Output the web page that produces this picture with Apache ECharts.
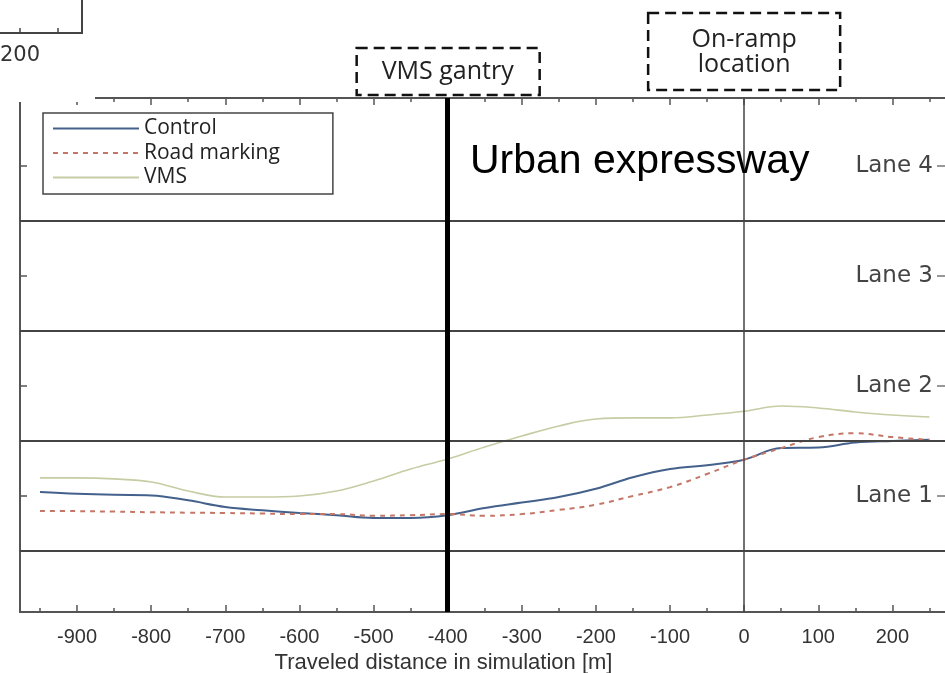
<!DOCTYPE html>
<html>
<head>
<meta charset="utf-8">
<script src="https://cdn.jsdelivr.net/npm/echarts@6/dist/echarts.min.js"></script>
<style>
  html, body { margin: 0; padding: 0; background: #fff; }
  #chart { width: 945px; height: 673px; }
</style>
</head>
<body>
<div id="chart"></div>
<script>
// Travelled distance relative to the on-ramp [m]
const distance = [-950, -900, -850, -800, -750, -700, -650, -600, -550, -500, -450, -400,
  -350, -300, -250, -200, -150, -100, -50, 0, 50, 100, 150, 200, 250];

// Mean lateral position, in lanes (0 = outer edge of lane 1)
const control = [0.536, 0.52, 0.51, 0.505, 0.46, 0.40, 0.37, 0.345, 0.325, 0.30, 0.30, 0.325,
  0.39, 0.44, 0.49, 0.565, 0.67, 0.745, 0.78, 0.83, 0.935, 0.94, 0.985, 1.0, 1.01];
const roadMarking = [0.364, 0.362, 0.358, 0.352, 0.348, 0.345, 0.34, 0.335, 0.335, 0.32, 0.325, 0.335,
  0.32, 0.335, 0.373, 0.42, 0.50, 0.58, 0.70, 0.83, 0.935, 1.035, 1.07, 1.035, 1.01];
const vms = [0.664, 0.664, 0.655, 0.627, 0.545, 0.49, 0.49, 0.50, 0.545, 0.636, 0.745, 0.836,
  0.945, 1.045, 1.136, 1.20, 1.21, 1.21, 1.236, 1.27, 1.318, 1.30, 1.264, 1.236, 1.218];

// Axis ticks
const xMajorTicks = [-900, -800, -700, -600, -500, -400, -300, -200, -100, 0, 100, 200];
const xMinorTicks = [-950, -850, -750, -650, -550, -450, -350, -250, -150, -50, 50, 150, 250];
const laneCentres = [0.5, 1.5, 2.5, 3.5];
const laneNames = ['Lane 1', 'Lane 2', 'Lane 3', 'Lane 4'];
const laneBoundaries = [0, 1, 2, 3];

// Reference positions along the road
const gantryPosition = -400;
const rampPosition = 0;

const X_MIN = -977, X_MAX = 271;
const Y_MIN = -0.555, Y_MAX = 4.118;

const pairs = (ys) => distance.map((d, i) => [d, ys[i]]);

const axisGrey = '#555';
const font = 'Liberation Sans, Arial, sans-serif';
const humanist = 'Open Sans, sans-serif';

function xAxisDef(position, ticks, len, withLabels) {
  return {
    type: 'value', position, min: X_MIN, max: X_MAX,
    axisLine: { show: true, onZero: false, lineStyle: { color: axisGrey, width: 2 } },
    axisTick: { show: true, inside: true, length: len, customValues: ticks,
      lineStyle: { color: axisGrey, width: 1.5 } },
    axisLabel: withLabels ? {
      show: true, customValues: ticks, margin: 15, color: '#333',
      fontFamily: font, fontSize: 20
    } : { show: false },
    splitLine: { show: false }
  };
}

const chart = echarts.init(document.getElementById('chart'), null, { renderer: 'canvas' });

const bottomMajor = xAxisDef('bottom', xMajorTicks, 7, true);
bottomMajor.name = 'Traveled distance in simulation [m]';
bottomMajor.nameLocation = 'middle';
bottomMajor.nameGap = 35;
bottomMajor.nameTextStyle = { fontFamily: font, fontSize: 22, color: '#333', padding: [0, 78, 0, 0] };

chart.setOption({
  animation: false,
  backgroundColor: '#fff',
  title: {
    text: 'Urban expressway', left: 470, top: 141, padding: 0,
    textStyle: { fontFamily: font, fontSize: 41, fontWeight: 'normal', color: '#000' }
  },
  grid: { left: 20, right: 0, top: 98, bottom: 61, containLabel: false, outerBoundsMode: 'none' },
  legend: {
    orient: 'vertical', left: 43, top: 113,
    padding: [5, 53, 6, 9],
    borderColor: '#444', borderWidth: 1.5, borderRadius: 0,
    itemWidth: 86, itemHeight: 20, itemGap: 3.5,
    itemStyle: { opacity: 0 },
    data: ['Control', 'Road marking', 'VMS'],
    textStyle: { fontFamily: humanist, fontSize: 21, lineHeight: 21, color: '#222' }
  },
  xAxis: [
    bottomMajor,
    xAxisDef('bottom', xMinorTicks, 4, false),
    xAxisDef('top', xMajorTicks, 7, false),
    xAxisDef('top', xMinorTicks, 4, false)
  ],
  yAxis: [
    {
      type: 'value', position: 'left', min: Y_MIN, max: Y_MAX,
      axisLine: { show: true, onZero: false, lineStyle: { color: axisGrey, width: 2 } },
      axisTick: { show: true, inside: true, length: 7, customValues: laneCentres,
        lineStyle: { color: axisGrey, width: 1.5 } },
      axisLabel: { show: false },
      splitLine: { show: false }
    },
    {
      type: 'value', position: 'right', min: Y_MIN, max: Y_MAX,
      axisLine: { show: false, onZero: false },
      axisTick: { show: true, inside: true, length: 8, customValues: laneCentres,
        lineStyle: { color: '#777', width: 1.5 } },
      axisLabel: {
        show: true, inside: true, margin: 12, customValues: laneCentres,
        formatter: (v) => laneNames[Math.round(v - 0.5)],
        color: '#444', fontFamily: 'DejaVu Sans, sans-serif', fontSize: 23
      },
      splitLine: { show: false }
    }
  ],
  series: [
    {
      name: 'Control', type: 'line', data: pairs(control), symbol: 'none', smooth: 0.4,
      lineStyle: { color: '#44618c', width: 2 }, itemStyle: { color: '#44618c' }, z: 3,
      markLine: {
        silent: true, symbol: ['none', 'none'], label: { show: false }, animation: false,
        data: [
          ...laneBoundaries.map((b) => ({ yAxis: b, lineStyle: { color: '#444', width: 2, type: 'solid' } })),
          { xAxis: rampPosition, lineStyle: { color: '#444', width: 1.5, type: 'solid' } },
          { xAxis: gantryPosition, lineStyle: { color: '#000', width: 5, type: 'solid' } }
        ]
      }
    },
    {
      name: 'Road marking', type: 'line', data: pairs(roadMarking), symbol: 'none', smooth: 0.4,
      lineStyle: { color: '#c47766', width: 2, type: [5, 5] }, itemStyle: { color: '#c47766' }, z: 3
    },
    {
      name: 'VMS', type: 'line', data: pairs(vms), symbol: 'none', smooth: 0.4,
      lineStyle: { color: '#c6cca3', width: 1.6 }, itemStyle: { color: '#c6cca3' }, z: 2
    }
  ]
});

// Dashed call-out boxes above the gantry and the on-ramp
const gx = chart.convertToPixel({ xAxisIndex: 0 }, gantryPosition);
const rx = chart.convertToPixel({ xAxisIndex: 0 }, rampPosition);
const dashed = { stroke: '#111', lineWidth: 2.5, lineDash: [11, 6], fill: '#fff' };
const calloutText = { fontFamily: humanist, fontSize: 25, fill: '#222', align: 'center', verticalAlign: 'middle' };

chart.setOption({
  graphic: [
    // panel fragment in the upper-left corner
    { type: 'rect', shape: { x: 0, y: 80, width: 95, height: 22 }, style: { fill: '#fff' }, z: 50 },
    { type: 'polyline', shape: { points: [[0, 33], [82, 33], [82, 0]] }, style: { stroke: '#444', lineWidth: 2, fill: null }, z: 50 },
    { type: 'line', shape: { x1: 20, y1: 28, x2: 20, y2: 33 }, style: { stroke: '#444', lineWidth: 1.5 }, z: 50 },
    { type: 'line', shape: { x1: 58, y1: 28, x2: 58, y2: 33 }, style: { stroke: '#444', lineWidth: 1.5 }, z: 50 },
    { type: 'text', x: 20, y: 56, style: { text: '200', fontFamily: 'DejaVu Sans, sans-serif', fontSize: 21, fill: '#333', align: 'center', verticalAlign: 'middle' }, z: 50 },

    { type: 'rect', shape: { x: gx - 91, y: 48, width: 183, height: 47 }, style: dashed, z: 60 },
    { type: 'text', x: gx, y: 72, style: Object.assign({ text: 'VMS gantry' }, calloutText), z: 61 },

    { type: 'rect', shape: { x: rx - 96, y: 13, width: 192, height: 77 }, style: dashed, z: 60 },
    { type: 'text', x: rx, y: 40, style: Object.assign({ text: 'On-ramp' }, calloutText), z: 61 },
    { type: 'text', x: rx, y: 65, style: Object.assign({ text: 'location' }, calloutText), z: 61 }
  ]
});
</script>
</body>
</html>
